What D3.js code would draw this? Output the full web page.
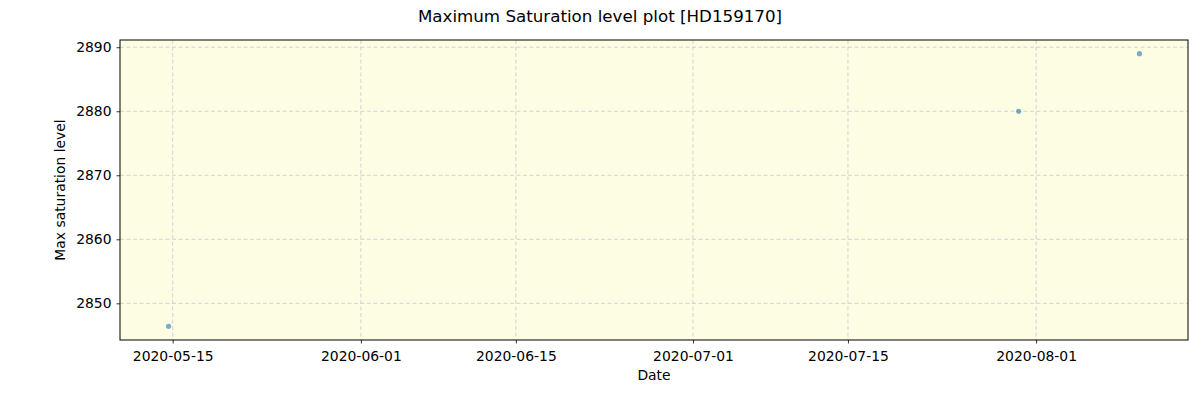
<!DOCTYPE html>
<html><head><meta charset="utf-8">
<script src="https://cdn.jsdelivr.net/npm/d3@7"></script>
<style>body{margin:0;background:#fff;} text{font-family:"DejaVu Sans",sans-serif;}</style>
</head><body>
<svg id="c" width="1200" height="400"></svg>
<script>
const dates = ["2020-05-14T15:00","2020-07-30T10:00","2020-08-10T08:00"];
const values = [2846.4, 2880.0, 2889.0];
const xTicks = ["2020-05-15","2020-06-01","2020-06-15","2020-07-01","2020-07-15","2020-08-01"];
const yTicks = [2850, 2860, 2870, 2880, 2890];

const svg = d3.select("#c");
const L = 120, R = 1188, T = 40, B = 340;
const parse = d3.isoParse;
const pts = dates.map((d,i)=>({d:parse(d), v:values[i]}));
const ext = d3.extent(pts, p=>+p.d);
const pad = (ext[1]-ext[0])*0.05;
const x = d3.scaleTime().domain([new Date(ext[0]-pad), new Date(ext[1]+pad)]).range([L,R]);
const ye = d3.extent(values);
const yp = (ye[1]-ye[0])*0.05;
const y = d3.scaleLinear().domain([ye[0]-yp, ye[1]+yp]).range([B,T]);

svg.append("rect").attr("x",L).attr("y",T).attr("width",R-L).attr("height",B-T).attr("fill","#fdfde3");

const xt = xTicks.map(s=>parse(s));
// grid
svg.append("g").selectAll("line").data(xt).join("line")
  .attr("x1",d=>x(d)).attr("x2",d=>x(d)).attr("y1",T).attr("y2",B)
  .attr("stroke","#c8c8d0").attr("stroke-width",0.8).attr("stroke-dasharray","4,2.5");
svg.append("g").selectAll("line").data(yTicks).join("line")
  .attr("x1",L).attr("x2",R).attr("y1",d=>y(d)).attr("y2",d=>y(d))
  .attr("stroke","#c8c8d0").attr("stroke-width",0.8).attr("stroke-dasharray","4,2.5");

// points
svg.append("g").selectAll("circle").data(pts).join("circle")
  .attr("cx",p=>x(p.d)).attr("cy",p=>y(p.v)).attr("r",2.6)
  .attr("fill","#1f77b4").attr("fill-opacity",0.6);

// axes
const xAxis = d3.axisBottom(x).tickValues(xt).tickFormat(d3.timeFormat("%Y-%m-%d")).tickSize(3.5).tickPadding(5);
const gx = svg.append("g").attr("transform",`translate(0,${B})`).call(xAxis);
const yAxis = d3.axisLeft(y).tickValues(yTicks).tickFormat(d3.format("d")).tickSize(3.5).tickPadding(5);
const gy = svg.append("g").attr("transform",`translate(${L},0)`).call(yAxis);
[gx,gy].forEach(g=>{
  g.select(".domain").remove();
  g.selectAll("text").attr("font-size","13.9px").attr("fill","#000").attr("font-family","DejaVu Sans");
  g.selectAll("line").attr("stroke","#000").attr("stroke-width",0.8);
});
gx.selectAll("text").attr("dy","0.9em");

svg.append("rect").attr("x",L).attr("y",T).attr("width",R-L).attr("height",B-T)
  .attr("fill","none").attr("stroke","#000").attr("stroke-width",1);

svg.append("text").attr("x",600).attr("y",22).attr("text-anchor","middle").attr("font-size","16.7px").text("Maximum Saturation level plot [HD159170]");
svg.append("text").attr("x",(L+R)/2).attr("y",380).attr("text-anchor","middle").attr("font-size","13.9px").text("Date");
svg.append("text").attr("transform",`translate(65,${(T+B)/2}) rotate(-90)`).attr("text-anchor","middle").attr("font-size","13.9px").text("Max saturation level");
</script>
</body></html>
